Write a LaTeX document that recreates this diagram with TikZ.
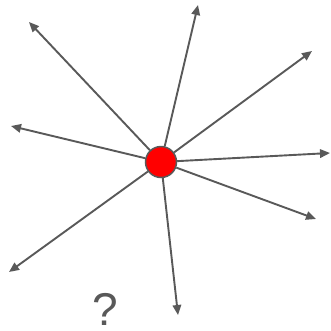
\documentclass[tikz,border=0pt]{standalone}
\usepackage{fontspec}
\setmainfont{Liberation Sans}
\usetikzlibrary{arrows.meta}
\definecolor{edge}{HTML}{595959}
\definecolor{hot}{HTML}{FF0000}
\begin{document}
\begin{tikzpicture}[
  x=1pt, y=-1pt,
  hub/.style={circle, draw=edge, fill=hot, line width=1.5pt, minimum size=31pt, inner sep=0pt},
  ray/.style={-{Triangle[length=10pt,width=8.5pt]}, draw=edge, line width=1.9pt},
  query/.style={text=edge, inner sep=0pt, font=\fontsize{46}{46}\selectfont}
]
\useasboundingbox (0,0) rectangle (331,330);

% centre point
\node[hub] (hub) at (161,162) {};

% eight rays going out
\foreach \tip/\x/\y in {nw/29/22, w/11/126, n/198/5, ne/312/51, e/330/153, sw/9/272, se/316/219, s/178/315} {
  \coordinate (\tip) at (\x,\y);
  \draw[ray] (hub) -- (\tip);
}

\node[query] (ask) at (105,309) {?};
\end{tikzpicture}
\end{document}
